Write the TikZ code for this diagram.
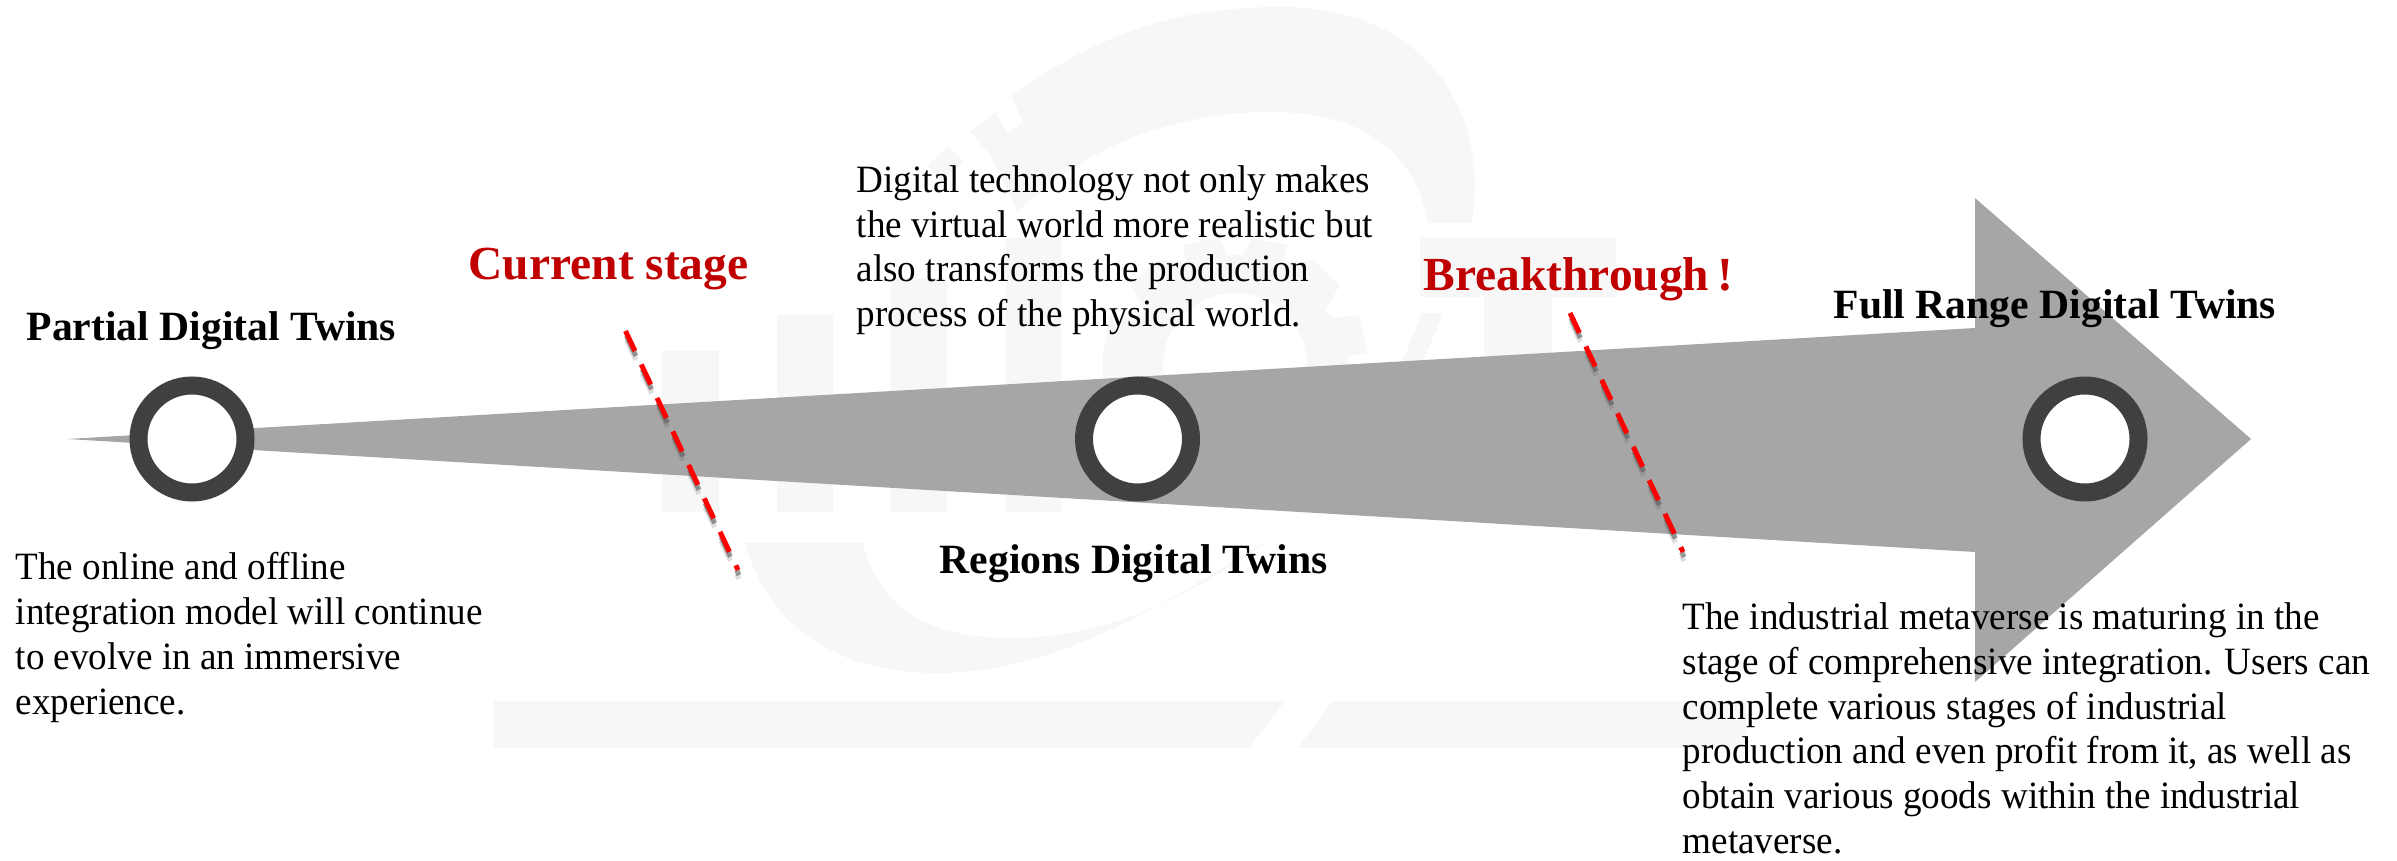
\documentclass[tikz,border=0pt]{standalone}
\usepackage{fontspec}
\setmainfont{Liberation Serif}
\newfontfamily\bodyfont[FakeStretch=0.96]{Liberation Serif}
\usetikzlibrary{positioning}
\definecolor{shaftgray}{HTML}{A6A6A6}
\definecolor{ringgray}{HTML}{404040}
\definecolor{markgray}{HTML}{F7F7F7}
\definecolor{stagered}{HTML}{C00000}
\tikzset{
	ringnode/.style={circle, draw=ringgray, fill=white, line width=0.18cm, minimum size=1.07cm, inner sep=0},
	titlenode/.style={anchor=base west, inner sep=0, font=\fontsize{11.85}{14}\selectfont\bfseries},
	stagenode/.style={anchor=base west, inner sep=0, text=stagered, font=\fontsize{13.5}{16}\selectfont\bfseries},
	textnode/.style={anchor=north west, inner sep=0, align=left, font=\fontsize{11}{12.8}\selectfont\bodyfont},
	cutline/.style={draw=red, line width=0.05cm, dash pattern=on 0.22cm off 0.15cm},
	cutshadow/.style={draw=black!65, line width=0.05cm, dash pattern=on 0.22cm off 0.15cm},
}
\begin{document}
\begin{tikzpicture}
	\useasboundingbox (0,0) rectangle (23.97,8.60);
	% faint mark behind the arrow
	\fill[markgray] (6.62,3.48) rectangle (7.19,5.09);
	\fill[markgray] (7.77,3.48) rectangle (8.33,5.45);
	\fill[markgray] (8.91,3.48) rectangle (9.47,5.82);
	\fill[markgray] (10.06,3.48) rectangle (10.62,6.22);
	\fill[markgray] (4.94,1.59) -- (12.85,1.59) -- (12.49,1.12) -- (4.94,1.12) -- cycle;
	\fill[markgray] (13.32,1.59) -- (17.46,1.59) -- (17.46,1.12) -- (12.98,1.12) -- cycle;
	\fill[markgray] (10.11,7.65) .. controls (11.20,8.40) and (12.00,8.53) .. (12.83,8.53)
		.. controls (13.90,8.53) and (14.75,7.90) .. (14.75,6.70) -- (14.72,6.37) -- (14.28,6.37)
		.. controls (14.15,7.10) and (13.60,7.48) .. (12.72,7.48)
		.. controls (11.70,7.48) and (10.80,7.10) .. (10.18,6.48)
		-- (9.90,7.05) -- (9.70,7.28) -- (9.95,7.48) -- (10.08,7.27) -- (10.23,7.38) -- cycle;
	\fill[markgray] (9.48,7.13) -- (9.28,6.95) -- (9.40,6.77) -- (9.63,6.98) -- cycle;
	\fill[markgray] (7.45,3.17) .. controls (7.70,2.30) and (8.40,1.87) .. (9.38,1.87)
		.. controls (10.60,1.87) and (11.70,2.60) .. (12.68,3.20)
		.. controls (11.90,2.60) and (11.00,2.22) .. (10.12,2.22)
		.. controls (9.30,2.22) and (8.80,2.50) .. (8.63,3.17) -- cycle;
	\fill[markgray] (11.83,6.15) -- (12.20,6.23) -- (12.27,6.05) -- (12.43,6.05) -- (12.52,6.22)
		-- (12.87,6.15) -- (12.83,5.97) -- (13.13,6.00) -- (13.40,5.75) -- (13.25,5.50) -- (13.33,5.42)
		-- (13.60,5.45) -- (13.67,5.08) -- (13.47,5.03) -- (13.47,4.20) -- (11.03,4.20) -- (11.03,5.08)
		-- (11.10,5.45) -- (11.37,5.42) -- (11.45,5.50) -- (11.30,5.75) -- (11.57,6.00) -- (11.87,5.97) -- cycle;
	\fill[white] (12.35,4.95) circle (0.72);
	\fill[markgray] (14.22,5.47) -- (14.43,5.47) -- (13.95,4.30) -- (13.75,4.30) -- cycle;
	\fill[markgray] (14.20,6.22) -- (16.16,6.22) -- (16.16,5.63) -- (15.52,5.63) -- (15.52,4.60) -- (14.84,4.60) -- (14.84,5.63) -- (14.20,5.63) -- cycle;
	% arrow
	\fill[shaftgray] (0.67,4.21) -- (19.75,5.32) -- (19.75,6.62) -- (22.51,4.21) -- (19.75,1.78) -- (19.75,3.08) -- cycle;
	% stations
	\node[ringnode] (ringa) at (1.92,4.21){};%left
	\node[ringnode] (ringb) at (11.375,4.21){};%middle
	\node[ringnode] (ringc) at (20.85,4.21){};%right
	% cuts
	\coordinate (cuta) at (6.255,5.29);
	\coordinate (cutb) at (7.38,2.90);
	\coordinate (cutc) at (15.70,5.47);
	\coordinate (cutd) at (16.83,3.08);
	\draw[cutshadow, opacity=0.2, transform canvas={shift={(0.01,-0.09)}}] (cuta) -- (cutb);
	\draw[cutshadow, opacity=0.6, transform canvas={shift={(0.01,-0.05)}}] (cuta) -- (cutb);
	\draw[cutline] (cuta) -- (cutb);
	\draw[cutshadow, opacity=0.2, transform canvas={shift={(0.01,-0.09)}}] (cutc) -- (cutd);
	\draw[cutshadow, opacity=0.6, transform canvas={shift={(0.01,-0.05)}}] (cutc) -- (cutd);
	\draw[cutline] (cutc) -- (cutd);
	% labels
	\node[titlenode] (partial) at (0.26,5.19){Partial Digital Twins};
	\node[titlenode] (regions) at (9.39,2.87){Regions Digital Twins};
	\node[titlenode] (fullrange) at (18.33,5.41){Full Range Digital Twins};
	\node[stagenode] (current) at (4.68,5.80){Current stage};
	\node[stagenode] (breakthrough) at (14.23,5.69){Breakthrough\,!};
	\node[textnode] (online) at (0.15,3.085){The online and offline\\integration model will continue\\to evolve in an immersive\\experience.};
	\node[textnode] (virtual) at (8.56,6.955){Digital technology not only makes\\the virtual world more realistic but\\also transforms the production\\process of the physical world.};
	\node[textnode] (maturing) at (16.82,2.585){The industrial metaverse is maturing in the\\stage of comprehensive integration. Users can\\complete various stages of industrial\\production and even profit from it, as well as\\obtain various goods within the industrial\\metaverse.};
\end{tikzpicture}
\end{document}
